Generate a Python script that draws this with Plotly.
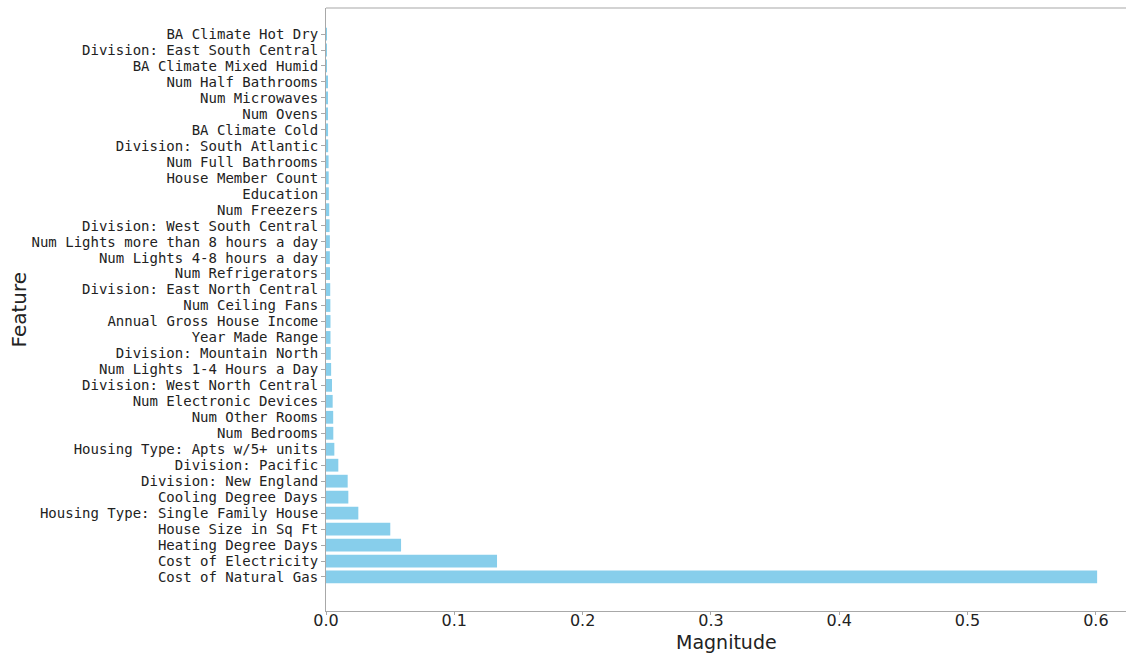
import plotly.graph_objects as go

# Feature importances, listed from the bottom bar upward
features = [
    "Cost of Natural Gas",
    "Cost of Electricity",
    "Heating Degree Days",
    "House Size in Sq Ft",
    "Housing Type: Single Family House",
    "Cooling Degree Days",
    "Division: New England",
    "Division: Pacific",
    "Housing Type: Apts w/5+ units",
    "Num Bedrooms",
    "Num Other Rooms",
    "Num Electronic Devices",
    "Division: West North Central",
    "Num Lights 1-4 Hours a Day",
    "Division: Mountain North",
    "Year Made Range",
    "Annual Gross House Income",
    "Num Ceiling Fans",
    "Division: East North Central",
    "Num Refrigerators",
    "Num Lights 4-8 hours a day",
    "Num Lights more than 8 hours a day",
    "Division: West South Central",
    "Num Freezers",
    "Education",
    "House Member Count",
    "Num Full Bathrooms",
    "Division: South Atlantic",
    "BA Climate Cold",
    "Num Ovens",
    "Num Microwaves",
    "Num Half Bathrooms",
    "BA Climate Mixed Humid",
    "Division: East South Central",
    "BA Climate Hot Dry",
]

magnitudes = [
    0.601, 0.1333, 0.0585, 0.0501, 0.0252, 0.0174, 0.0169, 0.0096, 0.0065,
    0.0057, 0.0056, 0.0052, 0.0047, 0.0040, 0.0037, 0.0035, 0.0035, 0.0034,
    0.0033, 0.0031, 0.0030, 0.0030, 0.0028, 0.0025, 0.0022, 0.0021, 0.0020,
    0.0017, 0.0016, 0.0013, 0.0010, 0.0009, 0.0007, 0.0006, 0.0002,
]

x_ticks = [0.0, 0.1, 0.2, 0.3, 0.4, 0.5, 0.6]
x_tick_text = ["0.0", "0.1", "0.2", "0.3", "0.4", "0.5", "0.6"]

spine = "#a8a8a8"
ink = "#222222"

fig = go.Figure(
    go.Bar(
        x=magnitudes,
        y=features,
        orientation="h",
        marker=dict(color="#87ceeb", line=dict(width=0)),
    )
)

fig.update_layout(
    width=1126,
    height=653,
    margin=dict(l=326, r=0, t=8, b=42),
    plot_bgcolor="white",
    paper_bgcolor="white",
    bargap=0.2,
    showlegend=False,
    font=dict(family="DejaVu Sans", color=ink),
    shapes=[
        dict(type="line", xref="paper", yref="paper", x0=0, x1=1, y0=1, y1=1,
             line=dict(color=spine, width=1.2)),
    ],
    annotations=[
        dict(text="Magnitude", xref="paper", yref="paper", x=0.5, y=0,
             xanchor="center", yanchor="middle", yshift=-30.5, showarrow=False,
             font=dict(family="DejaVu Sans", size=19, color=ink)),
        dict(text="Feature", xref="paper", yref="paper", x=0, y=0.5,
             xanchor="center", yanchor="middle", xshift=-308, textangle=-90,
             showarrow=False, font=dict(family="DejaVu Sans", size=20, color=ink)),
    ],
)

fig.update_xaxes(
    range=[0, 0.6235],
    tickmode="array",
    tickvals=x_ticks,
    ticktext=x_tick_text,
    tickfont=dict(family="DejaVu Sans", size=16, color=ink),
    ticks="outside",
    ticklen=3,
    tickcolor=spine,
    ticklabelstandoff=-8,
    showline=True,
    linecolor=spine,
    linewidth=1.2,
    showgrid=False,
    zeroline=False,
    automargin=False,
)

fig.update_yaxes(
    type="category",
    categoryorder="array",
    categoryarray=features,
    tickmode="array",
    tickvals=features,
    ticktext=features,
    range=[-2.13, 35.63],
    tickfont=dict(family="DejaVu Sans Mono", size=14, color=ink),
    ticks="outside",
    ticklen=4,
    tickcolor=spine,
    showline=True,
    linecolor=spine,
    linewidth=1.2,
    showgrid=False,
    zeroline=False,
    automargin=False,
)

fig.write_html("out.html")
